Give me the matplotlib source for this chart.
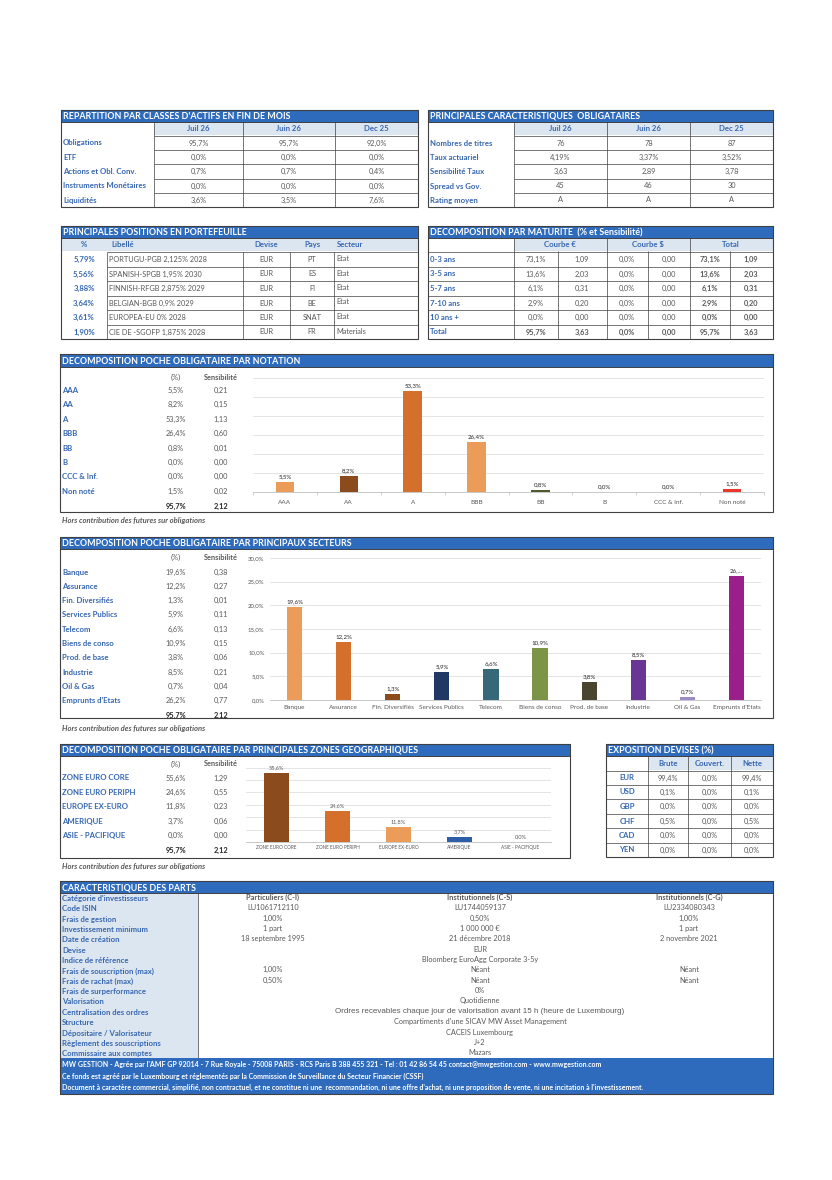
import matplotlib
matplotlib.use('Agg')
import matplotlib.pyplot as plt
from matplotlib.patches import Rectangle

plt.rcParams['font.family'] = ['Lato', 'DejaVu Sans']

# ---- data ----
alloc_rows = ['Obligations', 'ETF', 'Actions et Obl. Conv.', 'Instruments Monétaires', 'Liquidités']
periods = ['Juil 26', 'Juin 26', 'Dec 25']
alloc_juil = [95.7, 0.0, 0.7, 0.0, 3.6]
alloc_juin = [95.7, 0.0, 0.7, 0.0, 3.5]
alloc_dec = [92.0, 0.0, 0.4, 0.0, 7.6]

carac_rows = ['Nombres de titres', 'Taux actuariel', 'Sensibilité Taux', 'Spread vs Gov.', 'Rating moyen']
carac_juil = ['76', '4,19%', '3,63', '45', 'A']
carac_juin = ['78', '3,37%', '2,89', '46', 'A']
carac_dec = ['87', '3,52%', '3,78', '30', 'A']

pos_pct = [5.79, 5.56, 3.88, 3.64, 3.61, 1.90]
pos_name = ['PORTUGU-PGB 2,125% 2028', 'SPANISH-SPGB 1,95% 2030', 'FINNISH-RFGB 2,875% 2029',
            'BELGIAN-BGB 0,9% 2029', 'EUROPEA-EU 0% 2028', 'CIE DE -SGOFP 1,875% 2028']
pos_dev = ['EUR', 'EUR', 'EUR', 'EUR', 'EUR', 'EUR']
pos_pays = ['PT', 'ES', 'FI', 'BE', 'SNAT', 'FR']
pos_sect = ['Etat', 'Etat', 'Etat', 'Etat', 'Etat', 'Materials']

mat_rows = ['0-3 ans', '3-5 ans', '5-7 ans', '7-10 ans', '10 ans +', 'Total']
mat_eur_pct = [73.1, 13.6, 6.1, 2.9, 0.0, 95.7]
mat_eur_sens = [1.09, 2.03, 0.31, 0.20, 0.00, 3.63]
mat_usd_pct = [0.0, 0.0, 0.0, 0.0, 0.0, 0.0]
mat_usd_sens = [0.00, 0.00, 0.00, 0.00, 0.00, 0.00]
mat_tot_pct = [73.1, 13.6, 6.1, 2.9, 0.0, 95.7]
mat_tot_sens = [1.09, 2.03, 0.31, 0.20, 0.00, 3.63]

rating_labels = ['AAA', 'AA', 'A', 'BBB', 'BB', 'B', 'CCC & Inf.', 'Non noté']
rating_pct = [5.5, 8.2, 53.3, 26.4, 0.8, 0.0, 0.0, 1.5]
rating_sens = [0.21, 0.15, 1.13, 0.60, 0.01, 0.00, 0.00, 0.02]
rating_total = (95.7, 2.12)

sect_labels = ['Banque', 'Assurance', 'Fin. Diversifiés', 'Services Publics', 'Telecom',
               'Biens de conso', 'Prod. de base', 'Industrie', 'Oil & Gas', "Emprunts d'Etats"]
sect_pct = [19.6, 12.2, 1.3, 5.9, 6.6, 10.9, 3.8, 8.5, 0.7, 26.2]
sect_sens = [0.38, 0.27, 0.01, 0.11, 0.13, 0.15, 0.06, 0.21, 0.04, 0.77]
sect_total = (95.7, 2.12)

geo_labels = ['ZONE EURO CORE', 'ZONE EURO PERIPH', 'EUROPE EX-EURO', 'AMERIQUE', 'ASIE - PACIFIQUE']
geo_pct = [55.6, 24.6, 11.8, 3.7, 0.0]
geo_sens = [1.29, 0.55, 0.23, 0.06, 0.00]
geo_total = (95.7, 2.12)

cur_labels = ['EUR', 'USD', 'GBP', 'CHF', 'CAD', 'YEN']
cur_brute = [99.4, 0.1, 0.0, 0.5, 0.0, 0.0]
cur_couv = [0.0, 0.0, 0.0, 0.0, 0.0, 0.0]
cur_nette = [99.4, 0.1, 0.0, 0.5, 0.0, 0.0]

part_labels = ["Catégorie d'investisseurs", 'Code ISIN', 'Frais de gestion', 'Investissement minimum',
               'Date de création', 'Devise', 'Indice de référence', 'Frais de souscription (max)',
               'Frais de rachat (max)', 'Frais de surperformance', 'Valorisation',
               'Centralisation des ordres', 'Structure', 'Dépositaire / Valorisateur',
               'Règlement des souscriptions', 'Commissaire aux comptes']
part_values = [
    ['Particuliers (C-I)', 'Institutionnels (C-S)', 'Institutionnels (C-G)'],
    ['LU1061712110', 'LU1744059137', 'LU2334080343'],
    ['1,00%', '0,50%', '1,00%'],
    ['1 part', '1 000 000 €', '1 part'],
    ['18 septembre 1995', '21 décembre 2018', '2 novembre 2021'],
    ['EUR'],
    ['Bloomberg EuroAgg Corporate 3-5y'],
    ['1,00%', 'Néant', 'Néant'],
    ['0,50%', 'Néant', 'Néant'],
    ['0%'],
    ['Quotidienne'],
    ['Ordres recevables chaque jour de valorisation avant 15 h (heure de Luxembourg)'],
    ["Compartiments d'une SICAV MW Asset Management"],
    ['CACEIS Luxembourg'],
    ['J+2'],
    ['Mazars'],
]
footer_lines = [
    "MW GESTION - Agrée par l'AMF GP 92014 - 7 Rue Royale - 75008 PARIS - RCS Paris B 388 455 321 - Tel : 01 42 86 54 45 contact@mwgestion.com - www.mwgestion.com",
    "Ce fonds est agréé par le Luxembourg et réglementés par la Commission de Surveillance du Secteur Financier (CSSF)",
    "Document à caractère commercial, simplifié, non contractuel, et ne constitue ni une  recommandation, ni une offre d'achat, ni une proposition de vente, ni une incitation à l'investissement.",
]
note = 'Hors contribution des futures sur obligations'

rating_colors = ['#eb9c59', '#8c4b1c', '#d46f2c', '#eb9c59', '#4f5a2c', '#a5a5a5', '#a5a5a5', '#e8392e']
sect_colors = ['#eb9c59', '#d46f2c', '#8c4b1c', '#1f3864', '#37687a', '#7b9448', '#4a4530',
               '#6a3696', '#9c8cc6', '#9b1f8b']
geo_colors = ['#8c4b1c', '#d46f2c', '#eb9c59', '#2e5ea8', '#a5a5a5']

# ---- page ----
W, H = 832, 1180
BLUE = '#2e6bbd'
LABEL = '#3767b1'
GREY = '#595959'
DARK = '#262626'
HEAD_BG = '#dce6f1'
LINE = '#404040'
GRID = '#d9d9d9'
LAB_SIZE = 5.6
VAL_SIZE = 5.3
HEAD_SIZE = 6.4

fig = plt.figure(figsize=(W / 100, H / 100), dpi=100)
pg = fig.add_axes([0, 0, 1, 1])
pg.set_xlim(0, W)
pg.set_ylim(H, 0)
pg.axis('off')


def fr(v, d=1, pct=True):
    s = f"{v:.{d}f}".replace('.', ',')
    return s + '%' if pct else s


def box(x0, y0, x1, y1, fc='none', ec='none', lw=0.7, z=1):
    pg.add_patch(Rectangle((x0, y0), x1 - x0, y1 - y0, fc=fc, ec=ec, lw=lw, zorder=z))


def t(x, y, s, ha='left', c=GREY, size=VAL_SIZE, bold=False, italic=False, family=None):
    kw = {}
    if family:
        kw['family'] = family
    pg.text(x, y, s, ha=ha, va='center', color=c, fontsize=size,
            fontweight='bold' if bold else 'normal',
            fontstyle='italic' if italic else 'normal', zorder=5, **kw)


def lab(x, y, s, ha='left'):
    t(x, y, s, ha=ha, c=LABEL, size=LAB_SIZE, bold=True)


def line(x0, y0, x1, y1, c=LINE, lw=0.5):
    pg.plot([x0, x1], [y0, y1], color=c, lw=lw, solid_capstyle='butt', zorder=3)


def header(x0, x1, y0, y1, title):
    box(x0, y0, x1, y1, fc=BLUE, ec=LINE, lw=0.7, z=2)
    t(x0 + 2, (y0 + y1) / 2 + 0.5, title, c='white', size=HEAD_SIZE, bold=True)


def pix_axes(x0, y0, x1, y1):
    return fig.add_axes([x0 / W, 1 - y1 / H, (x1 - x0) / W, (y1 - y0) / H])


# ---- table 1 : repartition ----
xs = [61, 154, 243, 335, 418]
ys = [136, 150, 164, 179, 193, 207]
header(61, 418, 110, 122, "REPARTITION PAR CLASSES D'ACTIFS EN FIN DE MOIS")
box(154, 122, 418, 135, fc=HEAD_BG)
for j, p in enumerate(periods):
    lab((xs[j + 1] + xs[j + 2]) / 2, 128.5, p, ha='center')
for i, r in enumerate(alloc_rows):
    yc = (ys[i] + ys[i + 1]) / 2
    lab(63, yc, r)
    for j, col in enumerate([alloc_juil, alloc_juin, alloc_dec]):
        t((xs[j + 1] + xs[j + 2]) / 2, yc, fr(col[i]), ha='center')
for y in ys[:-1]:
    line(154, y, 418, y)
for x in xs[1:-1]:
    line(x, 122, x, 207)
box(61, 110, 418, 207, ec=LINE, lw=0.8, z=4)

# ---- table 2 : caracteristiques ----
xs = [428, 514, 607, 690, 773]
header(428, 773, 110, 122, 'PRINCIPALES CARACTERISTIQUES  OBLIGATAIRES')
box(514, 122, 773, 135, fc=HEAD_BG)
for j, p in enumerate(periods):
    lab((xs[j + 1] + xs[j + 2]) / 2, 128.5, p, ha='center')
for i, r in enumerate(carac_rows):
    yc = (ys[i] + ys[i + 1]) / 2
    lab(430, yc, r)
    for j, col in enumerate([carac_juil, carac_juin, carac_dec]):
        t((xs[j + 1] + xs[j + 2]) / 2, yc, col[i], ha='center')
for y in ys[:-1]:
    line(514, y, 773, y)
for x in xs[1:-1]:
    line(x, 122, x, 207)
box(428, 110, 773, 207, ec=LINE, lw=0.8, z=4)

# ---- table 3 : positions ----
ys = [252, 267, 281, 296, 310, 325, 339]
header(61, 418, 226, 238, 'PRINCIPALES POSITIONS EN PORTEFEUILLE')
box(61, 238, 418, 251, fc=HEAD_BG)
lab(84, 244.5, '%', ha='center')
lab(111, 244.5, 'Libellé')
lab(266, 244.5, 'Devise', ha='center')
lab(312, 244.5, 'Pays', ha='center')
lab(337, 244.5, 'Secteur')
for i in range(len(pos_pct)):
    yc = (ys[i] + ys[i + 1]) / 2
    lab(84, yc, fr(pos_pct[i], 2), ha='center')
    t(109, yc, pos_name[i])
    t(266, yc, pos_dev[i], ha='center')
    t(312, yc, pos_pays[i], ha='center')
    t(336, yc - 1, pos_sect[i])
for y in ys[:-1]:
    line(107, y, 418, y)
for x in [107, 243, 290, 334]:
    line(x, ys[0], x, ys[-1])
box(61, 226, 418, 339, ec=LINE, lw=0.8, z=4)

# ---- table 4 : maturite ----
header(428, 773, 226, 238, 'DECOMPOSITION PAR MATURITE  (% et Sensibilité)')
box(514, 238, 773, 251, fc=HEAD_BG)
lab(560, 244.5, 'Courbe €', ha='center')
lab(648, 244.5, 'Courbe $', ha='center')
lab(731, 244.5, 'Total', ha='center')
cx = [536, 582, 627, 669, 710, 751]
for i, r in enumerate(mat_rows):
    yc = (ys[i] + ys[i + 1]) / 2
    last = i == len(mat_rows) - 1
    lab(430, yc, r)
    vals = [fr(mat_eur_pct[i]), fr(mat_eur_sens[i], 2, False), fr(mat_usd_pct[i]),
            fr(mat_usd_sens[i], 2, False), fr(mat_tot_pct[i]), fr(mat_tot_sens[i], 2, False)]
    for j, v in enumerate(vals):
        t(cx[j], yc, v, ha='center', bold=last or j >= 4)
for y in ys[:-1]:
    line(428, y, 773, y)
for x in [514, 607, 690]:
    line(x, 238, x, 339)
for x in [558, 648, 730]:
    line(x, 251, x, 339)
box(428, 226, 773, 339, ec=LINE, lw=0.8, z=4)


# ---- bar chart helpers ----
def left_table(labels, pct, sens, total, y_head, y0, step, y_tot):
    t(176, y_head, '(%)', ha='center')
    t(221, y_head, 'Sensibilité', ha='center', bold=True)
    for i, name in enumerate(labels):
        y = y0 + i * step
        lab(62, y, name)
        t(176, y, fr(pct[i]), ha='center')
        t(221, y, fr(sens[i], 2, False), ha='center')
    t(176, y_tot, fr(total[0]), ha='center', c=DARK, bold=True)
    t(221, y_tot, fr(total[1], 2, False), ha='center', c=DARK, bold=True)


def bar_chart(box_px, labels, vals, colors, ymax, width, lab_size, pad, grid_step,
              val_labels=None, val_color=DARK, val_size=4.4, yticks=False, minor=False):
    ax = pix_axes(*box_px)
    x = range(len(vals))
    ax.bar(x, vals, width=width, color=colors, zorder=3)
    ax.set_xlim(-0.5, len(vals) - 0.5)
    ax.set_ylim(0, ymax)
    ax.set_xticks(list(x))
    ax.set_xticklabels(labels, fontsize=lab_size, color=GREY)
    ax.tick_params(axis='x', length=0, pad=pad)
    gy = [k * grid_step for k in range(1, int(ymax / grid_step + 1e-6) + 1)]
    for g in gy:
        ax.axhline(g, color=GRID, lw=0.5, zorder=1)
    if yticks:
        ax.set_yticks([0] + gy)
        ax.set_yticklabels([fr(v) for v in [0] + gy], fontsize=4.3, color=GREY)
        ax.tick_params(axis='y', length=0, pad=4)
    else:
        ax.set_yticks([])
    for s in ['top', 'right', 'left']:
        ax.spines[s].set_visible(False)
    ax.spines['bottom'].set_color('#bfbfbf')
    ax.spines['bottom'].set_linewidth(0.6)
    if minor:
        ax.set_xticks([k - 0.5 for k in range(len(vals) + 1)], minor=True)
        ax.tick_params(axis='x', which='minor', length=2.5, color='#bfbfbf', width=0.5)
    ax.patch.set_alpha(0)
    if val_labels is None:
        val_labels = [fr(v) for v in vals]
    for i, v in enumerate(vals):
        ax.annotate(val_labels[i], (i, v), xytext=(0, 2), textcoords='offset points',
                    ha='center', va='bottom', fontsize=val_size, color=val_color)
    return ax


# ---- rating ----
header(60, 773, 354, 367, 'DECOMPOSITION POCHE OBLIGATAIRE PAR NOTATION')
box(60, 354, 773, 512, ec=LINE, lw=0.8, z=4)
left_table(rating_labels, rating_pct, rating_sens, rating_total, 377, 390.5, 14.4, 506)
bar_chart((253, 378, 764, 492), rating_labels, rating_pct, rating_colors, 60, 0.29,
          4.6, 5.5, 10, minor=True)
t(62, 520, note, size=5.5, italic=True, bold=True)

# ---- secteurs ----
header(60, 773, 537, 549, 'DECOMPOSITION POCHE OBLIGATAIRE PAR PRINCIPAUX SECTEURS')
box(60, 537, 773, 718, ec=LINE, lw=0.8, z=4)
left_table(sect_labels, sect_pct, sect_sens, sect_total, 557, 572, 14.3, 715)
sect_vlab = [fr(v) for v in sect_pct]
sect_vlab[-1] = '26,...'
bar_chart((270, 558, 761, 700), sect_labels, sect_pct, sect_colors, 30, 0.31,
          4.6, 3.5, 5, val_labels=sect_vlab, yticks=True)
t(62, 729, note, size=5.5, italic=True, bold=True)

# ---- zones geo ----
header(60, 570, 744, 756, 'DECOMPOSITION POCHE OBLIGATAIRE PAR PRINCIPALES ZONES GEOGRAPHIQUES')
box(60, 744, 570, 858, ec=LINE, lw=0.8, z=4)
left_table(geo_labels, geo_pct, geo_sens, geo_total, 764, 778, 14.4, 850)
bar_chart((246, 763, 551, 842), geo_labels, geo_pct, geo_colors, 63.7, 0.42,
          3.4, 2.5, 10, val_color=GREY, val_size=4.0)
t(62, 866, note, size=5.5, italic=True, bold=True)

# ---- devises ----
xs = [606, 648, 688, 731, 773]
ys = [771, 785, 799, 814, 828, 843, 857]
header(606, 773, 744, 756, 'EXPOSITION DEVISES (%)')
box(648, 756, 773, 770, fc=HEAD_BG)
for j, h in enumerate(['Brute', 'Couvert.', 'Nette']):
    lab((xs[j + 1] + xs[j + 2]) / 2, 763, h, ha='center')
for i, c in enumerate(cur_labels):
    yc = (ys[i] + ys[i + 1]) / 2
    lab(627, yc, c, ha='center')
    for j, col in enumerate([cur_brute, cur_couv, cur_nette]):
        t((xs[j + 1] + xs[j + 2]) / 2, yc, fr(col[i]), ha='center')
for y in ys[:-1]:
    line(606, y, 773, y)
for x in xs[1:-1]:
    line(x, 756, x, 857)
box(606, 744, 773, 857, ec=LINE, lw=0.8, z=4)

# ---- caracteristiques des parts ----
header(60, 773, 881, 893, 'CARACTERISTIQUES DES PARTS')
box(60, 893, 198, 1058, fc=HEAD_BG)
line(198, 893, 198, 1058)
col_x = [273, 480, 689]
for i, name in enumerate(part_labels):
    y = 898 + i * 10.35
    lab(62, y + 0.5, name)
    vals = part_values[i]
    if len(vals) == 3:
        for j, v in enumerate(vals):
            t(col_x[j], y - 0.5, v, ha='center', bold=(i == 0))
    elif name == 'Centralisation des ordres':
        t(480, y - 0.5, vals[0], ha='center', size=5.8, family=['Liberation Sans', 'DejaVu Sans'])
    else:
        t(480, y - 0.5, vals[0], ha='center')
box(60, 1058, 773, 1094, fc=BLUE)
for k, s in enumerate(footer_lines):
    t(62, 1065 + k * 11, s, c='white', size=5.0, bold=True)
box(60, 881, 773, 1094, ec=LINE, lw=0.8, z=4)

fig.savefig('out.png', dpi=100, facecolor='white')
